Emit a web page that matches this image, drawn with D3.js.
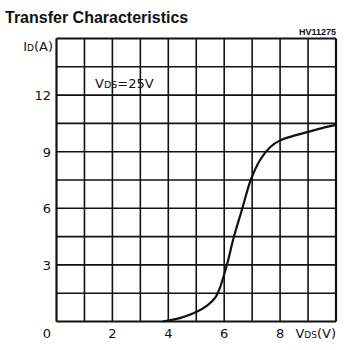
<!DOCTYPE html>
<html><head><meta charset="utf-8">
<script src="https://cdn.jsdelivr.net/npm/d3@7"></script>
<style>body{margin:0;background:#fff}svg{display:block}</style>
</head><body>
<script>
const vgs = [3.8, 4.5, 5.0, 5.4, 5.7, 5.85, 6.0, 6.15, 6.33, 6.65, 6.95, 7.3, 7.65, 8.0, 8.5, 9.0, 9.5, 10.0];
const id  = [0, 0.22, 0.5, 0.85, 1.3, 1.8, 2.5, 3.3, 4.4, 6.0, 7.5, 8.6, 9.25, 9.6, 9.85, 10.05, 10.25, 10.42];
const xTickLabels = [2, 4, 6, 8];
const yTickLabels = [3, 6, 9, 12];
const xGrid = d3.range(0, 11, 1);
const yGrid = d3.range(0, 16, 1.5);

const W = 364, H = 350;
const svg = d3.select("body").append("svg").attr("width", W).attr("height", H);
const x = d3.scaleLinear().domain([0, 10]).range([56.5, 336]);
const y = d3.scaleLinear().domain([0, 15]).range([321.5, 38.5]);
const ink = "#111";
const tickFont = "'DejaVu Sans', sans-serif";

svg.append("text").attr("x", 5).attr("y", 23).attr("font-family", "'Liberation Sans', Arial, sans-serif")
  .attr("font-weight", "bold").attr("font-size", 16).attr("fill", ink).text("Transfer Characteristics");
svg.append("text").attr("x", 336).attr("y", 35).attr("text-anchor", "end")
  .attr("font-family", "'Liberation Sans', Arial, sans-serif").attr("font-weight", "bold")
  .attr("font-size", 9).attr("fill", ink).text("HV11275");

const g = svg.append("g");
g.selectAll("line.vx").data(xGrid).enter().append("line")
  .attr("x1", d => x(d)).attr("x2", d => x(d)).attr("y1", y(0)).attr("y2", y(15))
  .attr("stroke", ink).attr("stroke-width", d => (d === 0 || d === 10) ? 2.2 : 1.6);
g.selectAll("line.hy").data(yGrid).enter().append("line")
  .attr("y1", d => y(d)).attr("y2", d => y(d)).attr("x1", x(0)).attr("x2", x(10))
  .attr("stroke", ink).attr("stroke-width", d => (d === 0 || d === 15) ? 2.2 : 1.6);

const line = d3.line().x(d => x(d[0])).y(d => y(d[1])).curve(d3.curveCatmullRom.alpha(0.5));
svg.append("path").datum(vgs.map((v, i) => [v, id[i]])).attr("d", line)
  .attr("fill", "none").attr("stroke", ink).attr("stroke-width", 2.2);

// tick labels
svg.selectAll("text.xt").data(xTickLabels).enter().append("text")
  .attr("x", d => x(d)).attr("y", 338).attr("text-anchor", "middle")
  .attr("font-family", tickFont).attr("font-size", 13).attr("fill", ink).text(d => d);
svg.selectAll("text.yt").data(yTickLabels).enter().append("text")
  .attr("x", 51).attr("y", d => y(d) + 5).attr("text-anchor", "end")
  .attr("font-family", tickFont).attr("font-size", 13).attr("fill", ink).text(d => d);
svg.append("text").attr("x", 47).attr("y", 338).attr("text-anchor", "middle")
  .attr("font-family", tickFont).attr("font-size", 13).attr("fill", ink).text("0");

// axis titles
const yl = svg.append("text").attr("x", 53).attr("y", 51).attr("text-anchor", "end")
  .attr("font-family", tickFont).attr("font-size", 13).attr("fill", ink);
yl.append("tspan").text("I");
yl.append("tspan").attr("font-size", 9).text("D");
yl.append("tspan").text("(A)");

const xl = svg.append("text").attr("x", 336).attr("y", 338).attr("text-anchor", "end")
  .attr("font-family", tickFont).attr("font-size", 13).attr("fill", ink);
xl.append("tspan").text("V");
xl.append("tspan").attr("font-size", 9).text("DS");
xl.append("tspan").text("(V)");

const an = svg.append("text").attr("x", 95).attr("y", 88)
  .attr("font-family", tickFont).attr("font-size", 13).attr("fill", ink);
an.append("tspan").text("V");
an.append("tspan").attr("font-size", 9.5).text("DS");
an.append("tspan").text("=25V");
</script>
</body></html>
